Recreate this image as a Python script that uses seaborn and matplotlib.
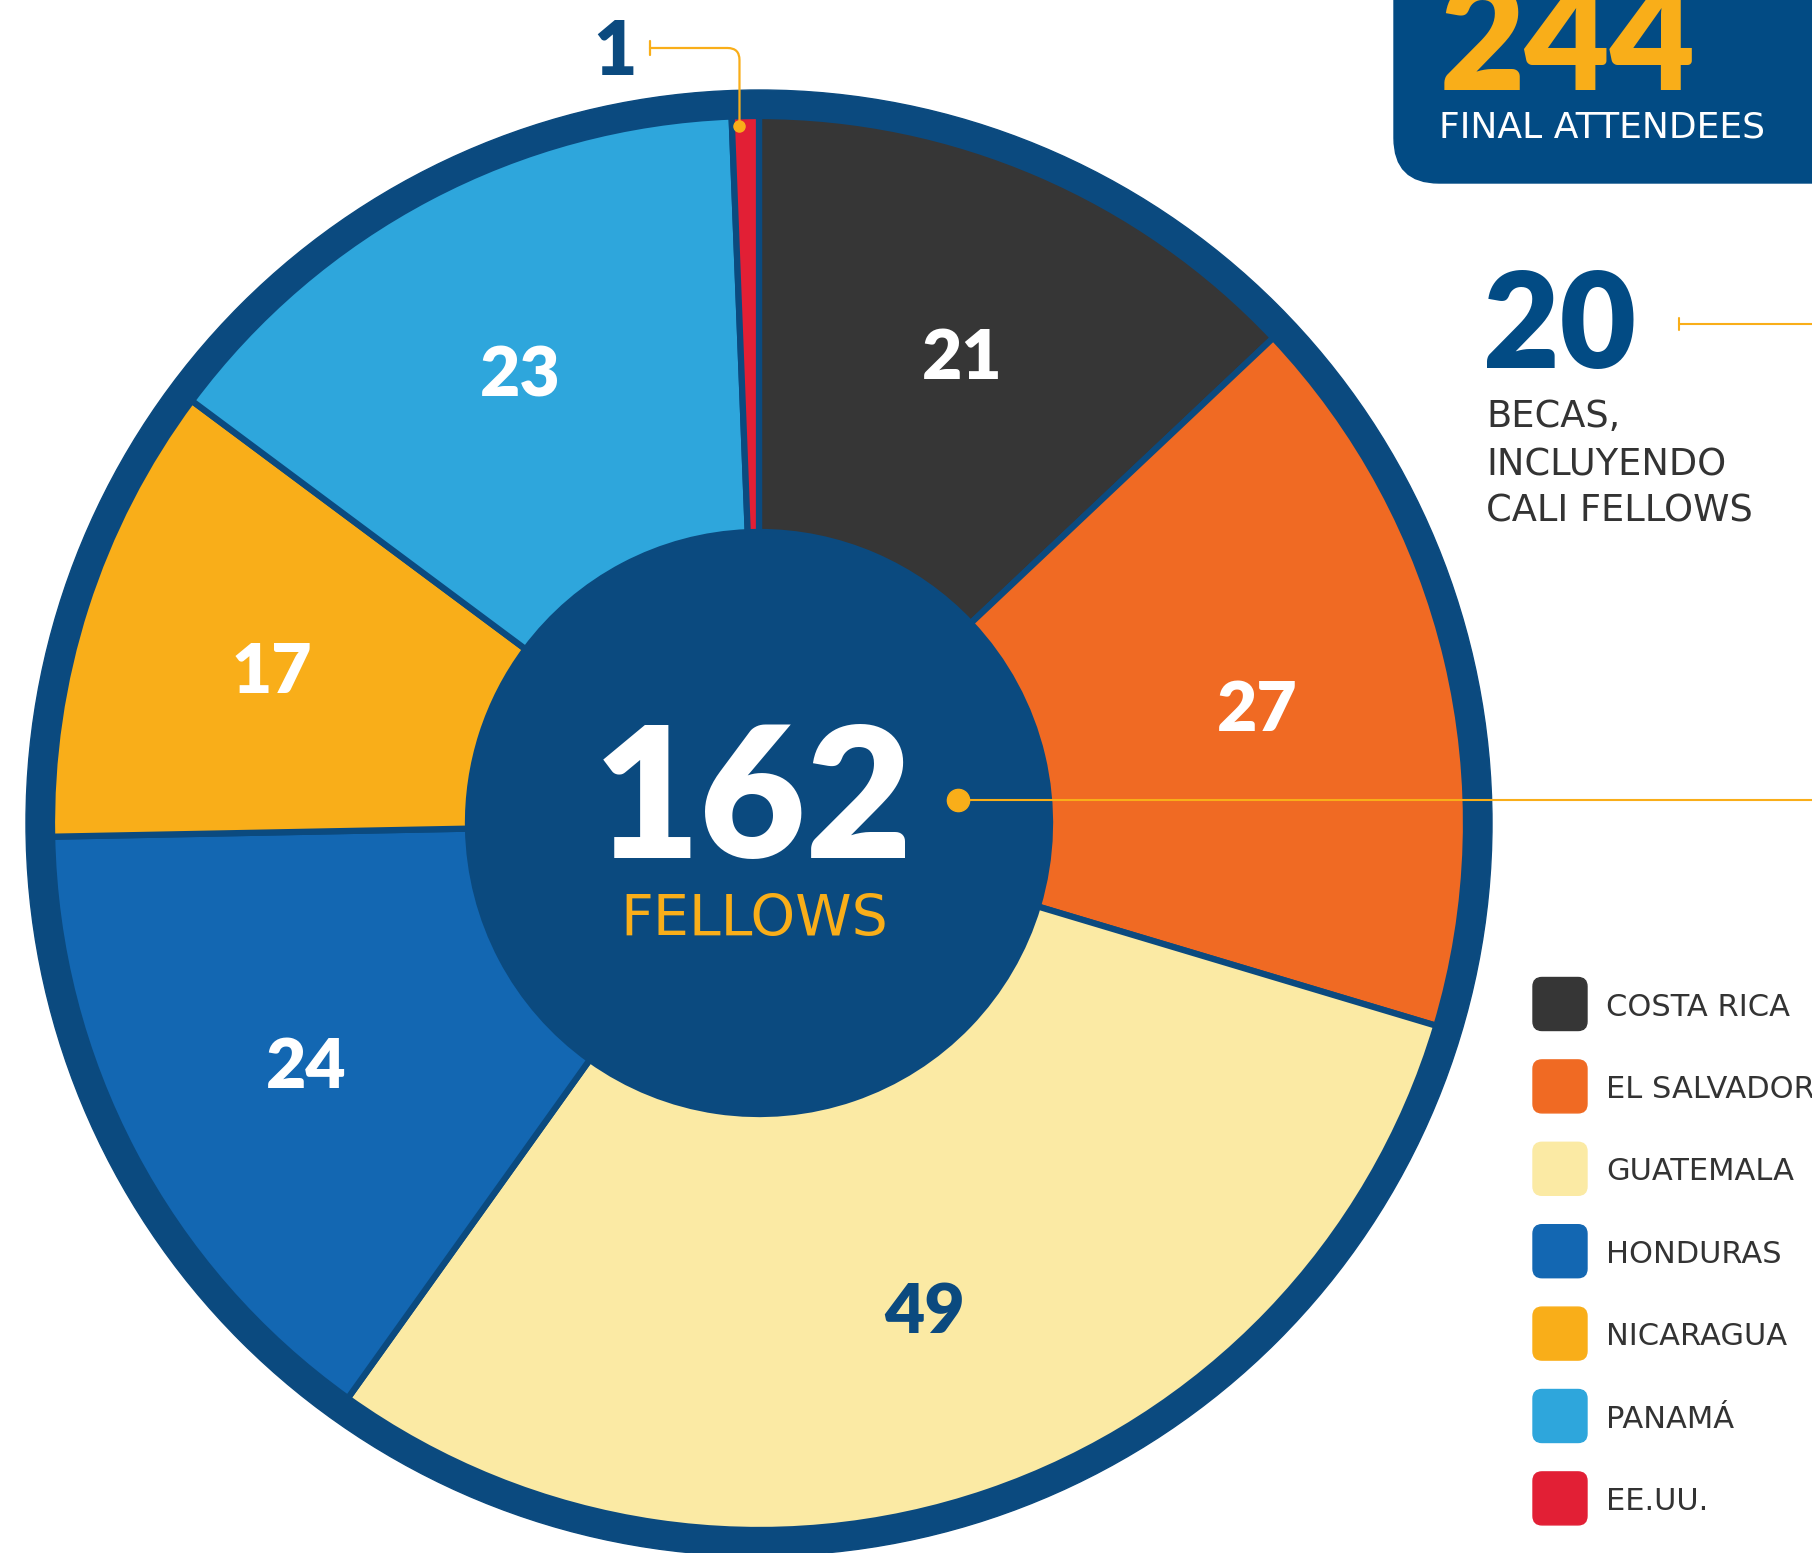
import matplotlib
matplotlib.use("Agg")
import matplotlib.pyplot as plt
from matplotlib.patches import Circle, FancyBboxPatch
import numpy as np
import seaborn as sns

# ── Data ──────────────────────────────────────────────────────────────────
countries = ["COSTA RICA", "EL SALVADOR", "GUATEMALA", "HONDURAS",
             "NICARAGUA", "PANAMÁ", "EE.UU."]
fellows = [21, 27, 49, 24, 17, 23, 1]
country_colors = ["#363636", "#f06a23", "#fbeaa4", "#1367b2",
                  "#f9ae19", "#2ea6dc", "#e21f35"]
label_colors = ["white", "white", "#0b4a7f", "white", "white", "white", "#0b4a7f"]
total_fellows = 162
becas = 20
attendees = 244

NAVY = "#0b4a7f"
BOX = "#024b84"
GOLD = "#f9ae19"
INK = "#333333"

sns.set_theme(style="white")
NUM_FONT = ["Lato", "DejaVu Sans"]
TXT_FONT = ["DejaVu Sans"]
plt.rcParams["font.family"] = NUM_FONT

W, H = 1812, 1553
fig = plt.figure(figsize=(W / 100, H / 100), dpi=100)
ax = fig.add_axes([0, 0, 1, 1])

# ── Donut ─────────────────────────────────────────────────────────────────
CX, CY = 759, 730
R_OUT, R_IN, RING = 707, 291, 26

ax.add_patch(Circle((CX, CY), R_OUT + RING, color=NAVY, zorder=0))
wedges, _ = ax.pie(
    fellows,
    colors=sns.color_palette(country_colors),
    startangle=90, counterclock=False,
    center=(CX, CY), radius=R_OUT,
    wedgeprops=dict(width=R_OUT - R_IN, edgecolor=NAVY, linewidth=4.5),
)

# value labels inside the wedges (all but the tiny EE.UU. slice)
for w, val, col in zip(wedges[:-1], fellows[:-1], label_colors[:-1]):
    ang = np.deg2rad((w.theta1 + w.theta2) / 2)
    ax.text(CX + 512 * np.cos(ang), CY + 512 * np.sin(ang) - 26, str(val),
            ha="center", va="baseline", fontsize=50, fontweight="heavy",
            color=col, zorder=5)

# EE.UU. call-out
w = wedges[-1]
ang = np.deg2rad((w.theta1 + w.theta2) / 2)
dot = (CX + (R_OUT - 10) * np.cos(ang) - 6, CY + (R_OUT - 10) * np.sin(ang))
ax.annotate("", xy=dot, xytext=(650, 1505),
            arrowprops=dict(arrowstyle="-", color=GOLD, lw=1.6,
                            shrinkA=0, shrinkB=0,
                            connectionstyle="angle,angleA=0,angleB=90,rad=12"),
            zorder=6)
ax.plot([650, 650], [1498, 1512], color=GOLD, lw=1.6, zorder=6)
ax.plot(*dot, "o", color=GOLD, ms=8, zorder=7)
ax.text(615, 1478, str(fellows[-1]), ha="center", va="baseline",
        fontsize=54, fontweight="heavy", color=NAVY)

# centre text
ax.text(753, 695, str(total_fellows), ha="center", va="baseline",
        fontsize=132, fontweight="heavy", color="white", zorder=5)
ax.text(754, 617, "FELLOWS", ha="center", va="baseline", family=TXT_FONT,
        fontsize=41, color=GOLD, zorder=5)
ax.plot([958, W], [753, 753], color=GOLD, lw=1.5, zorder=5)
ax.plot(958, 753, "o", color=GOLD, ms=16, zorder=6)

# ── Top-right box ─────────────────────────────────────────────────────────
ax.add_patch(FancyBboxPatch((1394, H - 183), 600, 400,
                            boxstyle="round,pad=0,rounding_size=45",
                            color=BOX, zorder=1))
ax.text(1440, 1463, str(attendees), ha="left", va="baseline",
        fontsize=106, fontweight="heavy", color=GOLD, zorder=2)
ax.text(1602, 1415, "FINAL ATTENDEES", ha="center", va="baseline",
        family=TXT_FONT, fontsize=26, color="white", zorder=2)

# ── Becas note ────────────────────────────────────────────────────────────
ax.text(1483, 1185, str(becas), ha="left", va="baseline",
        fontsize=95, fontweight="heavy", color=BOX)
ax.plot([1679, W], [1229, 1229], color=GOLD, lw=1.5)
ax.plot([1679, 1679], [1223, 1235], color=GOLD, lw=1.5)
for yb, line in zip([1126, 1078, 1031], ["BECAS,", "INCLUYENDO", "CALI FELLOWS"]):
    ax.text(1486, yb, line, ha="left", va="baseline", family=TXT_FONT,
            fontsize=26.5, color=INK)

# ── Legend ────────────────────────────────────────────────────────────────
row_y = CY - 181 - 82.4 * np.arange(len(countries))
for yc, name, col in zip(row_y, countries, country_colors):
    ax.add_patch(FancyBboxPatch((1533, yc - 26.5), 54, 53,
                                boxstyle="round,pad=0,rounding_size=9",
                                color=col))
    ax.text(1606, yc - 11.5, name, ha="left", va="baseline", family=TXT_FONT,
            fontsize=22, color=INK)

ax.set_xlim(0, W)
ax.set_ylim(0, H)
ax.set_aspect("equal")
ax.axis("off")

fig.savefig("out.png", dpi=100, facecolor="white")
